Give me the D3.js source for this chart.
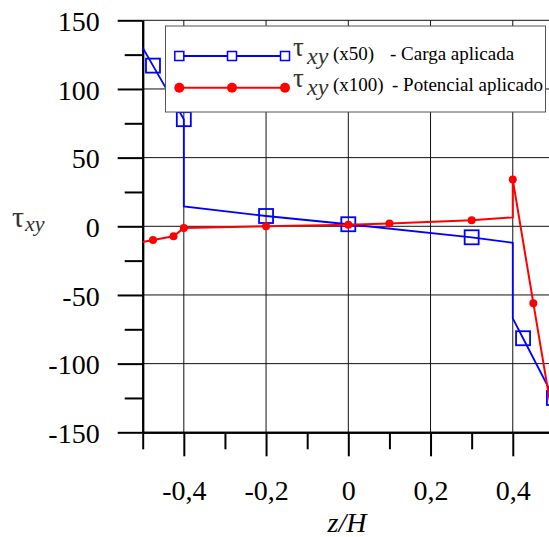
<!DOCTYPE html>
<html>
<head>
<meta charset="utf-8">
<script src="https://cdn.jsdelivr.net/npm/d3@7"></script>
<style>
  body { margin: 0; background: #fff; }
  svg { display: block; }
</style>
</head>
<body>
<svg id="chart" width="549" height="537"></svg>
<script>
// data
const blueZ      = [-0.5, -0.475, -0.4, -0.4, -0.2, 0,   0.3, 0.4, 0.4, 0.425, 0.5];
const blueTau    = [130,  117,    78,   14.5, 7.5,  1.5, -8,  -12, -67, -81.5, -125];
const blueMarked = [0,    1,      1,    0,    1,    1,   1,   0,   0,   1,     1];

const redZ      = [-0.5,  -0.475, -0.425, -0.4, -0.2, 0,   0.1, 0.3, 0.4, 0.4, 0.45, 0.5];
const redTau    = [-11.5, -10,    -7.3,   -1.2, 0,    1.2, 2,   4.4, 6.5, 34,  -56,  -145];
const redMarked = [0,     1,      1,      1,    1,    1,   1,   1,   0,   1,   1,    0];

const xMajor = [-0.4, -0.2, 0, 0.2, 0.4];
const xMinor = [-0.5, -0.3, -0.1, 0.1, 0.3];
const yMajor = [-150, -100, -50, 0, 50, 100, 150];
const yMinor = [-125, -75, -25, 25, 75, 125];

const FONT = "Liberation Serif";
const svg = d3.select("#chart").attr("font-family", FONT);
const x = d3.scaleLinear().domain([-0.5, 0.5]).range([142.7, 553.9]);
const y = d3.scaleLinear().domain([-150, 150]).range([432.3, 20.3]);
const fmt = d => String(d).replace(".", ",");

// grid
svg.append("g").selectAll("line").data(xMajor).join("line")
  .attr("x1", d => x(d)).attr("x2", d => x(d))
  .attr("y1", y(150)).attr("y2", y(-150))
  .attr("stroke", "#111").attr("stroke-width", 1);
svg.append("g").selectAll("line").data(yMajor.filter(d => d > -150)).join("line")
  .attr("x1", x(-0.5)).attr("x2", 549)
  .attr("y1", d => y(d)).attr("y2", d => y(d))
  .attr("stroke", "#111").attr("stroke-width", 1);

// axes
const yAx = svg.append("g").attr("transform", `translate(${x(-0.5)},0)`)
  .call(d3.axisLeft(y).tickValues(yMajor).tickSize(25).tickSizeOuter(0).tickPadding(18).tickFormat(fmt));
svg.append("g").attr("transform", `translate(${x(-0.5)},0)`)
  .call(d3.axisLeft(y).tickValues(yMinor).tickSize(18).tickSizeOuter(0).tickFormat(""));
const xAx = svg.append("g").attr("transform", `translate(0,${y(-150)})`)
  .call(d3.axisBottom(x).tickValues(xMajor).tickSize(24).tickSizeOuter(0).tickFormat(fmt));
svg.append("g").attr("transform", `translate(0,${y(-150)})`)
  .call(d3.axisBottom(x).tickValues(xMinor).tickSize(17).tickSizeOuter(0).tickFormat(""));

svg.selectAll(".domain").attr("stroke", "#000").attr("stroke-width", 2);
svg.selectAll(".tick line").attr("stroke", "#000").attr("stroke-width", 2);
svg.selectAll(".tick text").attr("fill", "#000").attr("font-size", 28);
yAx.selectAll(".tick text").attr("dy", "0.36em");
xAx.selectAll(".tick text").attr("y", 68).attr("dy", 0);

// series
const line = d3.line().x(d => x(d[0])).y(d => y(d[1]));
const bluePts = blueZ.map((z, i) => [z, blueTau[i], blueMarked[i]]);
const redPts = redZ.map((z, i) => [z, redTau[i], redMarked[i]]);

svg.append("path").datum(bluePts).attr("d", line)
  .attr("fill", "none").attr("stroke", "#0000ff").attr("stroke-width", 1.8);
svg.append("g").selectAll("rect").data(bluePts.filter(d => d[2])).join("rect")
  .attr("x", d => x(d[0]) - 7).attr("y", d => y(d[1]) - 7)
  .attr("width", 14).attr("height", 14)
  .attr("fill", "none").attr("stroke", "#0000ff").attr("stroke-width", 1.8);

svg.append("path").datum(redPts).attr("d", line)
  .attr("fill", "none").attr("stroke", "#ff0000").attr("stroke-width", 2);
svg.append("g").selectAll("circle").data(redPts.filter(d => d[2])).join("circle")
  .attr("cx", d => x(d[0])).attr("cy", d => y(d[1])).attr("r", 4)
  .attr("fill", "#ff0000");

// legend
const lg = svg.append("g");
lg.append("rect").attr("x", 165.5).attr("y", 26).attr("width", 380).attr("height", 86)
  .attr("fill", "#fff").attr("stroke", "#555").attr("stroke-width", 1);
const lx = [179.3, 232, 285];
lg.append("line").attr("x1", lx[0]).attr("x2", lx[2]).attr("y1", 56).attr("y2", 56)
  .attr("stroke", "#0000ff").attr("stroke-width", 2);
lg.selectAll("rect.m").data(lx).join("rect").attr("class", "m")
  .attr("x", d => d - 4.5).attr("y", 51.5).attr("width", 9).attr("height", 9)
  .attr("fill", "#fff").attr("stroke", "#0000ff").attr("stroke-width", 1.5);
lg.append("line").attr("x1", lx[0]).attr("x2", lx[2]).attr("y1", 87.7).attr("y2", 87.7)
  .attr("stroke", "#ff0000").attr("stroke-width", 2);
lg.selectAll("circle").data(lx).join("circle")
  .attr("cx", d => d).attr("cy", 87.7).attr("r", 5).attr("fill", "#ff0000");

const rows = [
  { dy: 0, parts: [["(x50)", 333], ["- Carga aplicada", 390]] },
  { dy: 31.7, parts: [["(x100)", 333], ["- Potencial aplicado", 392]] }
];
rows.forEach(r => {
  lg.append("text").attr("x", 293).attr("y", 55.5 + r.dy)
    .attr("fill", "#333").attr("font-size", 27).text("τ");
  lg.append("text").attr("x", 307).attr("y", 63.5 + r.dy)
    .attr("fill", "#333").attr("font-size", 24).attr("font-style", "italic").text("xy");
  r.parts.forEach(p => {
    lg.append("text").attr("x", p[1]).attr("y", 59.5 + r.dy)
      .attr("fill", "#000").attr("font-size", 19).text(p[0]);
  });
});

// axis titles
svg.append("text").attr("x", 12).attr("y", 227)
  .attr("fill", "#333").attr("font-size", 30).text("τ");
svg.append("text").attr("x", 25).attr("y", 230.5)
  .attr("fill", "#333").attr("font-size", 22).attr("font-style", "italic").text("xy");
svg.append("text").attr("x", 347).attr("y", 532).attr("text-anchor", "middle")
  .attr("fill", "#000").attr("font-size", 28).attr("font-style", "italic").text("z/H");

svg.selectAll("text").attr("font-family", FONT);
</script>
</body>
</html>
